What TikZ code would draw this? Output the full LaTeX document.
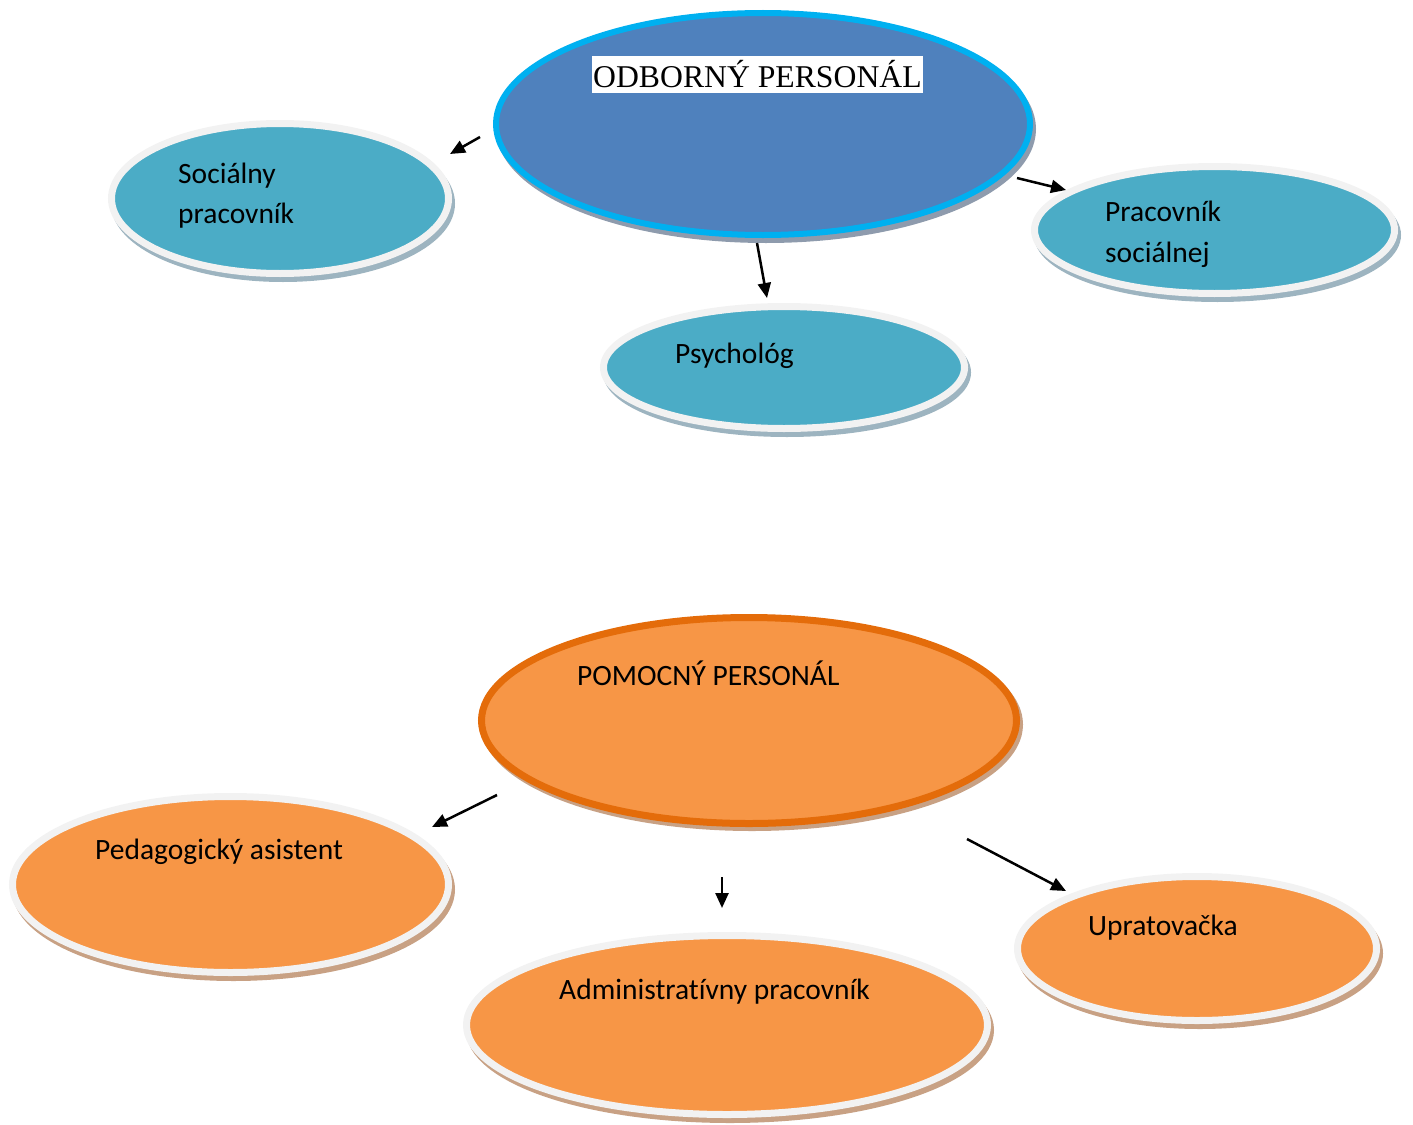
\documentclass[tikz,border=0pt]{standalone}
\usepackage{fontspec}
\setmainfont{Carlito}[Ligatures=CommonOff]
\newfontfamily\timesf{Liberation Serif}
\usetikzlibrary{shapes.geometric,arrows.meta,shadows}
\definecolor{tealfill}{HTML}{4BACC6}
\definecolor{rim}{HTML}{F2F2F2}
\definecolor{tealshadow}{HTML}{9DB4C0}
\definecolor{bluefill}{HTML}{4F81BD}
\definecolor{cyanborder}{HTML}{00B0F0}
\definecolor{blueshadow}{HTML}{8E9BAD}
\definecolor{orangefill}{HTML}{F79646}
\definecolor{orangeborder}{HTML}{E46C0A}
\definecolor{orangeshadow}{HTML}{C8A184}
\tikzset{
  bubble/.style={ellipse, inner sep=0pt, line width=7pt},
  tealnode/.style={bubble, draw=rim, fill=tealfill,
    drop shadow={shadow xshift=3pt, shadow yshift=-5pt, opacity=1, fill=tealshadow, draw=tealshadow, line width=7pt}},
  orangenode/.style={bubble, draw=rim, fill=orangefill,
    drop shadow={shadow xshift=3pt, shadow yshift=-5pt, opacity=1, fill=orangeshadow, draw=orangeshadow, line width=7pt}},
  mainblue/.style={bubble, line width=6pt, draw=cyanborder, fill=bluefill,
    drop shadow={shadow xshift=3pt, shadow yshift=-5pt, opacity=1, fill=blueshadow, draw=blueshadow, line width=6pt}},
  mainorange/.style={bubble, draw=orangeborder, fill=orangefill,
    drop shadow={shadow xshift=3pt, shadow yshift=-4pt, opacity=1, fill=orangeshadow, draw=orangeshadow, line width=7pt}},
  lbl/.style={font=\fontsize{29.5}{35}\selectfont, inner sep=0pt, anchor=base west},
  titlebox/.style={font=\timesf\fontsize{31.7}{38}\selectfont, fill=white, inner xsep=1pt, inner ysep=0pt,
    text height=31.3pt, text depth=5.7pt, anchor=base west},
  arr/.style={-{Triangle[length=15pt,width=13pt]}, line width=2.5pt, black}
}
\begin{document}
\begin{tikzpicture}[x=1pt,y=-1pt]
\useasboundingbox (0,0) rectangle (1413,1124);

% ---- upper group ----
\node[mainblue, minimum width=534pt, minimum height=222pt] (odb) at (763,124) {};
\node[titlebox] (odbt) at (592,87) {ODBORNÝ PERSONÁL};

\node[tealnode, minimum width=337pt, minimum height=150pt] (soc) at (280,198.5) {};
\node[lbl] (soc1) at (178,183) {Sociálny};
\node[lbl] (soc2) at (178,223) {pracovník};

\node[tealnode, minimum width=360pt, minimum height=127pt] (prac) at (1214.5,230) {};
\node[lbl] (prac1) at (1105,221) {Pracovník};
\node[lbl] (prac2) at (1105,262) {sociálnej};

\node[tealnode, minimum width=361pt, minimum height=122pt] (psy) at (784,367.5) {};
\node[lbl] (psy1) at (675,363) {Psychológ};

% ---- lower group ----
\node[mainorange, minimum width=535pt, minimum height=206pt] (pom) at (749,720.5) {};
\node[lbl] (pomt) at (577,685) {POMOCNÝ PERSONÁL};

\node[orangenode, minimum width=436pt, minimum height=176pt] (ped) at (230.5,884.5) {};
\node[lbl] (ped1) at (95,859) {Pedagogický asistent};

\node[orangenode, minimum width=521pt, minimum height=179pt] (adm) at (727,1025) {};
\node[lbl] (adm1) at (559,999) {Administratívny pracovník};

\node[orangenode, minimum width=359pt, minimum height=144pt] (upr) at (1197,948.5) {};
\node[lbl] (upr1) at (1088,935) {Upratovačka};

% ---- connectors ----
\coordinate (a1s) at (480,137);  \coordinate (a1e) at (450,154);
\coordinate (a2s) at (1017,178); \coordinate (a2e) at (1066,190);
\coordinate (a3s) at (757,243);  \coordinate (a3e) at (767,298);
\coordinate (b1s) at (497,795);  \coordinate (b1e) at (432,827);
\coordinate (b2s) at (722,877);  \coordinate (b2e) at (722,908);
\coordinate (b3s) at (967,839);  \coordinate (b3e) at (1066,891);
\draw[arr] (a1s) -- (a1e);
\draw[arr] (a2s) -- (a2e);
\draw[arr] (a3s) -- (a3e);
\draw[arr] (b1s) -- (b1e);
\draw[arr] (b2s) -- (b2e);
\draw[arr] (b3s) -- (b3e);
\end{tikzpicture}
\end{document}
